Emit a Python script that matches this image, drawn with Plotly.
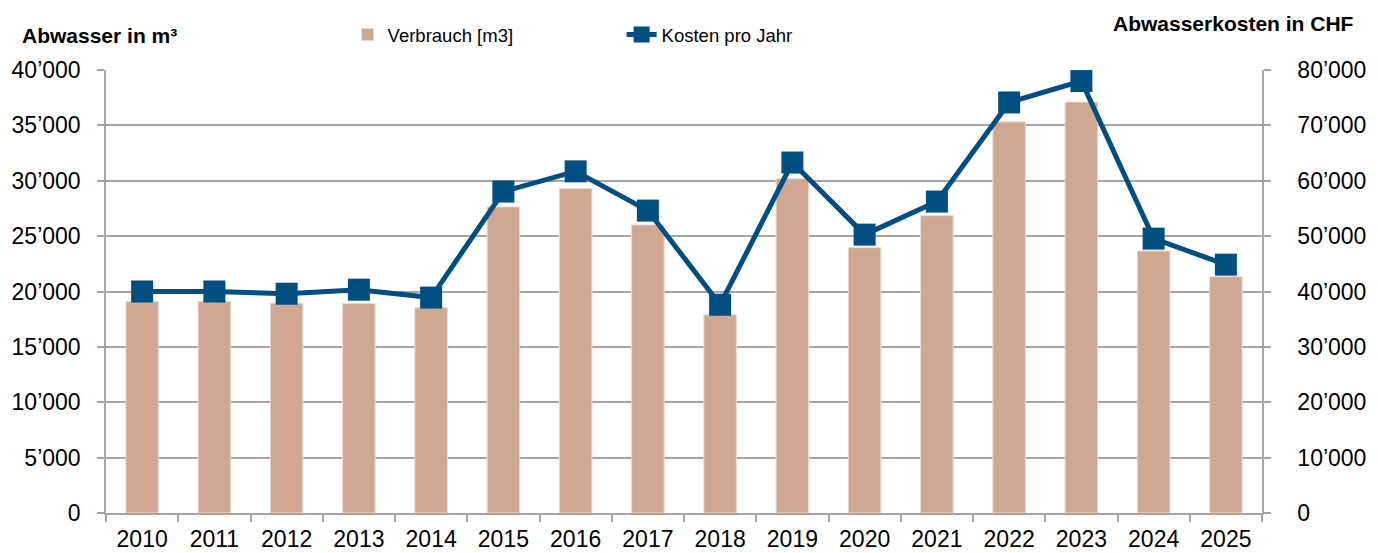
import plotly.graph_objects as go

years = ["2010", "2011", "2012", "2013", "2014", "2015", "2016", "2017",
         "2018", "2019", "2020", "2021", "2022", "2023", "2024", "2025"]
verbrauch = [19100, 19100, 18950, 18920, 18530, 27640, 29290, 26010,
             17900, 30170, 23960, 26850, 35320, 37100, 23660, 21340]
kosten = [40000, 40000, 39600, 40330, 38900, 58050, 61700, 54610,
          37610, 63290, 50270, 56240, 74140, 78000, 49550, 44850]

left_ticks = [0, 5000, 10000, 15000, 20000, 25000, 30000, 35000, 40000]
left_text = ["0", "5’000", "10’000", "15’000", "20’000", "25’000", "30’000", "35’000", "40’000"]
right_ticks = [0, 10000, 20000, 30000, 40000, 50000, 60000, 70000, 80000]
right_text = ["0", "10’000", "20’000", "30’000", "40’000", "50’000", "60’000", "70’000", "80’000"]

FONT = "Liberation Sans, Arial, sans-serif"
GRID = "#A6A6A6"

fig = go.Figure()
fig.add_trace(go.Bar(
    x=years, y=verbrauch, name="Verbrauch [m3]", width=0.45,
    marker=dict(color="#CFA792", line=dict(color="#EBD8CE", width=1)),
    yaxis="y",
))
fig.add_trace(go.Scatter(
    x=years, y=kosten, name="Kosten pro Jahr", mode="lines+markers",
    line=dict(color="#004F80", width=5),
    marker=dict(symbol="square", size=22, color="#004F80"),
    yaxis="y2",
))

fig.update_layout(
    width=1370, height=545,
    margin=dict(l=98, r=116, t=62, b=40, autoexpand=False),
    paper_bgcolor="white", plot_bgcolor="white",
    font=dict(family=FONT, color="black"),
    showlegend=True,
    legend=dict(orientation="h", x=0.209, xanchor="left", y=1.079, yanchor="middle",
                font=dict(size=18.5, family=FONT), entrywidth=229, entrywidthmode="pixels",
                bgcolor="rgba(0,0,0,0)"),
    xaxis=dict(type="category", range=[-0.5, 15.5], showline=True, linecolor=GRID, linewidth=1.5,
               ticks="outside", tickson="boundaries", ticklen=7, tickcolor=GRID, tickwidth=1.5,
               tickfont=dict(size=23), showgrid=False, automargin=False, ticklabelstandoff=5),
    yaxis=dict(range=[0, 40000], tickvals=left_ticks, ticktext=left_text,
               showline=True, linecolor=GRID, linewidth=1.5,
               ticks="outside", ticklen=7, tickcolor=GRID, tickwidth=1.5,
               showgrid=True, gridcolor=GRID, gridwidth=1.5, zeroline=False,
               tickfont=dict(size=23), ticklabelstandoff=12, automargin=False),
    yaxis2=dict(range=[0, 80000], tickvals=right_ticks, ticktext=right_text,
                overlaying="y", side="right",
                showline=True, linecolor=GRID, linewidth=1.5,
                ticks="outside", ticklen=7, tickcolor=GRID, tickwidth=1.5,
                showgrid=False, zeroline=False,
                tickfont=dict(size=23), ticklabelstandoff=22, automargin=False),
    annotations=[
        dict(text="<b>Abwasser in m³</b>", xref="paper", yref="paper",
             x=-86/1156, y=1 + 35/443, xanchor="left", yanchor="middle",
             showarrow=False, font=dict(size=21, family=FONT)),
        dict(text="<b>Abwasserkosten in CHF</b>", xref="paper", yref="paper",
             x=1 + 94/1156, y=1 + 47/443, xanchor="right", yanchor="middle",
             showarrow=False, font=dict(size=21, family=FONT)),
    ],
)

fig.write_html("out.html")
